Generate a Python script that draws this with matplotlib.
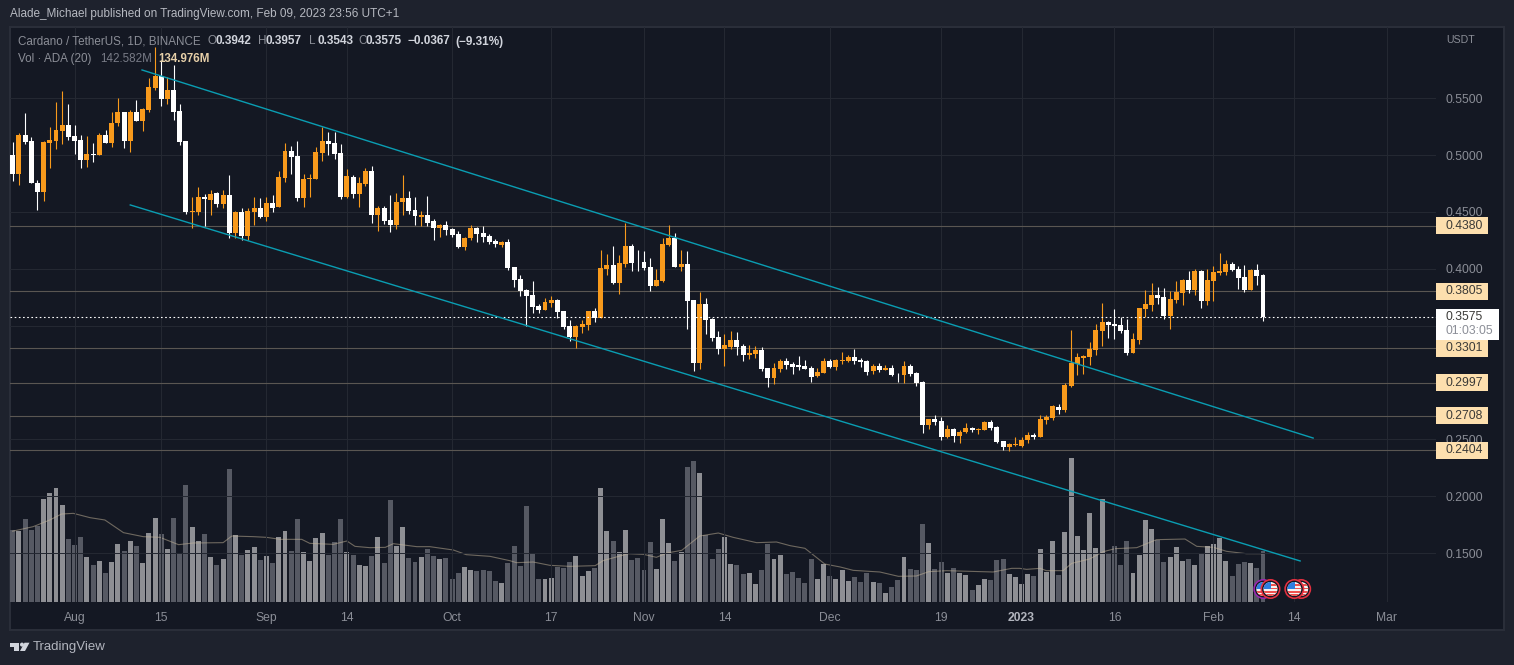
"""Cardano / TetherUS daily chart, dark TradingView look."""

import numpy as np
import pandas as pd
import matplotlib
matplotlib.use("Agg")
import matplotlib.pyplot as plt
import matplotlib.dates as mdates
from matplotlib.patches import Circle, Polygon, Rectangle

plt.rcParams["font.family"] = ["Liberation Sans", "DejaVu Sans"]

# ---------------------------------------------------------------- data
start_date = "2022-07-22"

opens = [
    .5003, .4830, .5178, .5126, .4759, .4680, .5111, .5126, .5216, .5266,
    .5170, .5134, .4959, .5008, .4997, .5178, .5108, .5281, .5381, .5126,
    .5381, .5301, .5398, .5591, .5697, .5498, .5574, .5389, .5126, .4496,
    .4502, .4636, .4607, .4669, .4572, .4648, .4314, .4502, .4291, .4502,
    .4537, .4455, .4581, .4545, .4803, .5038, .4994, .4625, .4786, .4792,
    .5020, .5126, .5108, .5020, .4633, .4809, .4660, .4748, .4862, .4475,
    .4537, .4431, .4387, .4584, .4625, .4519, .4458, .4475, .4418, .4359,
    .4383, .4348, .4304, .4195, .4271, .4357, .4313, .4286, .4245, .4213,
    .4234, .4014, .3908, .3812, .3768, .3671, .3636, .3698, .3724, .3627,
    .3495, .3399, .3487, .3504, .3627, .3566, .3996, .4032, .3873, .4040,
    .4199, .4055, .4058, .4014, .3847, .3891, .4207, .4269, .4014, .4040,
    .3724, .3170, .3689, .3557, .3399, .3293, .3311, .3372, .3320, .3240,
    .3249, .3284, .3126, .3038, .3117, .3188, .3161, .3153, .3144, .3126,
    .3056, .3082, .3188, .3135, .3188, .3188, .3223, .3197, .3188, .3100,
    .3144, .3109, .3126, .3076, .3065, .3144, .3082, .3003, .2625, .2678,
    .2660, .2520, .2590, .2528, .2564, .2599, .2587, .2581, .2652, .2608,
    .2484, .2432, .2449, .2441, .2493, .2537, .2520, .2669, .2687, .2783,
    .2757, .2968, .3161, .3214, .3223, .3284, .3451, .3531, .3513, .3504,
    .3460, .3258, .3372, .3645, .3680, .3768, .3750, .3583, .3724, .3785,
    .3900, .3812, .3979, .3715, .3891, .3961, .3970, .4040, .3996, .3926,
    .3812, .3988, .3942]
highs = [
    .5114, .5199, .5369, .5158, .4783, .5126, .5246, .5463, .5562, .5451,
    .5263, .5178, .5170, .5111, .5193, .5222, .5383, .5501, .5381, .5398,
    .5486, .5419, .5676, .5949, .5837, .5685, .5793, .5451, .5126, .4636,
    .4724, .4660, .4695, .4680, .4695, .4827, .4513, .4534, .4534, .4630,
    .4625, .4636, .4651, .4859, .5105, .5082, .5126, .4830, .4836, .5076,
    .5249, .5205, .5205, .5099, .4880, .4827, .4809, .4885, .4906, .4554,
    .4554, .4648, .4666, .4827, .4689, .4636, .4510, .4642, .4436, .4392,
    .4421, .4359, .4330, .4280, .4389, .4368, .4374, .4304, .4266, .4242,
    .4266, .4014, .3950, .3826, .3891, .3695, .3747, .3759, .3739, .3627,
    .3554, .3504, .3548, .3630, .3654, .4169, .4128, .4199, .4119, .4404,
    .4216, .4163, .4155, .4093, .3996, .4269, .4383, .4313, .4163, .4155,
    .3724, .3794, .3741, .3566, .3451, .3425, .3451, .3443, .3343, .3328,
    .3320, .3311, .3126, .3170, .3205, .3214, .3179, .3232, .3197, .3144,
    .3126, .3214, .3205, .3205, .3267, .3240, .3293, .3214, .3197, .3161,
    .3170, .3153, .3153, .3082, .3188, .3161, .3091, .3012, .2678, .2713,
    .2695, .2625, .2599, .2581, .2643, .2608, .2599, .2660, .2669, .2616,
    .2484, .2464, .2520, .2520, .2561, .2555, .2713, .2713, .2801, .2810,
    .2994, .3460, .3258, .3240, .3355, .3513, .3698, .3539, .3645, .3574,
    .3557, .3434, .3654, .3812, .3873, .3838, .3829, .3803, .3891, .3908,
    .3979, .3996, .3988, .3996, .4023, .4137, .4076, .4058, .4023, .4032,
    .3996, .4040, .3957]
lows = [
    .4774, .4739, .5099, .4751, .4519, .4598, .4891, .5052, .5099, .5134,
    .5011, .4891, .4900, .4944, .4997, .5108, .5076, .5252, .5067, .5032,
    .5301, .5216, .5383, .5574, .5436, .5451, .5310, .5085, .4484, .4355,
    .4475, .4381, .4475, .4548, .4534, .4270, .4270, .4255, .4255, .4384,
    .4446, .4417, .4499, .4545, .4765, .4836, .4598, .4548, .4636, .4792,
    .4950, .5003, .4964, .4616, .4627, .4625, .4548, .4730, .4402, .4337,
    .4396, .4320, .4352, .4475, .4484, .4384, .4373, .4378, .4251, .4277,
    .4295, .4283, .4184, .4166, .4254, .4236, .4236, .4219, .4192, .4192,
    .3993, .3841, .3759, .3498, .3613, .3613, .3636, .3662, .3572, .3472,
    .3366, .3302, .3434, .3460, .3531, .3566, .3944, .3865, .3777, .4014,
    .3979, .3979, .3988, .3803, .3847, .3882, .4199, .4014, .3979, .3469,
    .3100, .3117, .3425, .3364, .3249, .3144, .3293, .3240, .3188, .3205,
    .3214, .3100, .2959, .2986, .3091, .3117, .3073, .3109, .3117, .3003,
    .3047, .3082, .3126, .3109, .3161, .3179, .3161, .3135, .3065, .3073,
    .3091, .3109, .3056, .3003, .2994, .3056, .2968, .2555, .2590, .2625,
    .2493, .2511, .2476, .2467, .2555, .2564, .2546, .2581, .2581, .2467,
    .2405, .2400, .2441, .2432, .2467, .2502, .2520, .2634, .2669, .2722,
    .2739, .2959, .3065, .3073, .3153, .3240, .3320, .3390, .3381, .3434,
    .3240, .3258, .3337, .3574, .3627, .3689, .3557, .3469, .3698, .3680,
    .3785, .3768, .3654, .3680, .3715, .3944, .3944, .3979, .3821, .3794,
    .3812, .3856, .3543]
closes = [
    .4830, .5178, .5114, .4751, .4680, .5114, .5134, .5222, .5266, .5161,
    .5126, .4959, .5011, .4997, .5178, .5108, .5281, .5381, .5126, .5381,
    .5301, .5407, .5597, .5697, .5498, .5574, .5381, .5117, .4502, .4510,
    .4633, .4616, .4660, .4572, .4648, .4314, .4502, .4291, .4510, .4537,
    .4455, .4581, .4534, .4809, .5038, .4985, .4625, .4792, .4800, .5029,
    .5126, .5099, .5008, .4633, .4818, .4657, .4756, .4862, .4475, .4537,
    .4422, .4387, .4589, .4625, .4510, .4461, .4475, .4405, .4359, .4383,
    .4339, .4295, .4192, .4274, .4357, .4304, .4277, .4236, .4216, .4233,
    .4005, .3903, .3803, .3759, .3662, .3636, .3706, .3724, .3618, .3487,
    .3399, .3495, .3513, .3627, .3566, .4005, .4032, .3873, .4049, .4199,
    .4049, .4049, .4005, .3847, .3900, .4216, .4269, .4014, .4040, .3718,
    .3170, .3689, .3548, .3390, .3293, .3328, .3372, .3311, .3240, .3258,
    .3284, .3117, .3038, .3126, .3188, .3153, .3135, .3135, .3117, .3053,
    .3091, .3188, .3135, .3197, .3197, .3223, .3188, .3179, .3091, .3144,
    .3109, .3126, .3065, .3071, .3144, .3073, .2994, .2625, .2678, .2652,
    .2520, .2590, .2528, .2564, .2599, .2581, .2593, .2652, .2599, .2476,
    .2432, .2458, .2458, .2499, .2537, .2520, .2678, .2695, .2792, .2757,
    .2977, .3170, .3223, .3232, .3293, .3460, .3531, .3507, .3495, .3451,
    .3258, .3381, .3654, .3689, .3768, .3744, .3583, .3733, .3794, .3900,
    .3812, .3979, .3715, .3900, .3970, .3979, .4040, .3988, .3917, .3812,
    .3988, .3935, .3575]

# volume in millions of ADA
volumes = [
    200.4, 198.5, 232.1, 201.3, 212.5, 288.0, 304.8, 318.7, 271.2, 176.1,
    159.4, 181.7, 125.8, 103.5, 114.6, 81.1, 111.8, 162.2, 142.6, 170.6,
    156.6, 109.0, 192.9, 234.9, 190.1, 148.2, 234.9, 134.2, 327.1, 209.7,
    170.6, 190.1, 125.8, 103.5, 120.2, 371.9, 187.3, 131.4, 145.4, 153.8,
    117.4, 128.6, 109.0, 181.7, 198.5, 142.6, 232.1, 139.8, 114.6, 178.9,
    192.9, 131.4, 167.8, 232.1, 139.8, 131.4, 103.5, 100.7, 128.6, 181.7,
    109.0, 285.2, 156.6, 209.7, 123.0, 111.8, 125.8, 148.2, 128.6, 120.2,
    123.0, 64.3, 81.1, 97.9, 89.5, 86.7, 89.5, 86.7, 58.7, 53.1,
    109.0, 156.6, 100.7, 268.4, 137.0, 64.3, 64.3, 67.1, 97.9, 95.1,
    111.8, 128.6, 72.7, 86.7, 95.1, 318.7, 198.5, 170.6, 139.8, 201.3,
    117.4, 123.0, 89.5, 167.8, 92.3, 232.1, 165.0, 114.6, 139.8, 377.5,
    394.2, 360.7, 187.3, 120.2, 148.2, 181.7, 106.2, 103.5, 78.3, 81.1,
    50.3, 89.5, 162.2, 120.2, 131.4, 78.3, 83.9, 67.1, 53.1, 120.2,
    64.3, 106.2, 72.7, 64.3, 89.5, 58.7, 69.9, 55.9, 81.1, 55.9,
    53.1, 25.2, 41.9, 61.5, 125.8, 92.3, 89.5, 218.1, 165.0, 92.3,
    111.8, 81.1, 95.1, 81.1, 75.5, 33.6, 47.5, 64.3, 61.5, 117.4,
    120.2, 78.3, 69.9, 50.3, 78.3, 72.7, 148.2, 83.9, 170.6, 75.5,
    195.7, 402.6, 184.5, 145.4, 248.8, 151.0, 288.0, 134.2, 156.6, 103.5,
    170.6, 81.1, 131.4, 229.3, 204.1, 173.4, 111.8, 125.8, 153.8, 114.6,
    120.2, 103.5, 134.2, 156.6, 162.2, 178.9, 114.6, 72.7, 106.2, 111.8,
    109.0, 95.1, 142.6]

# 20-day volume average, read at its bends (days after start_date, millions)
ma_days = [
    0, 3.3, 6.0, 7.9, 9.8, 12.5, 14.9, 17.9, 21.1, 23.8, 26.8, 29.2, 34.0,
    35.4, 38.9, 41.0, 43.2, 46.7, 48.0, 51.8, 54.0, 55.3, 57.7, 60.2, 61.5,
    65.3, 67.4, 71.2, 73.3, 77.1, 80.3, 81.4, 84.1, 86.8, 90.0, 94.1, 95.4,
    98.1, 99.5, 101.9, 104.0, 105.7, 108.1, 111.0, 114.0, 116.4, 120.2,
    123.4, 125.6, 128.0, 131.2, 133.7, 135.8, 140.1, 143.1, 146.0, 148.0,
    150.9, 158.4, 161.4, 162.7, 163.8, 166.0, 167.0, 169.7, 171.1, 174.0,
    176.2, 178.1, 181.6, 184.8, 189.4, 191.3, 194.0, 196.1, 199.3, 202.0]
ma_values = [
    198.0, 210.6, 229.3, 246.0, 247.9, 235.8, 229.3, 193.9, 182.7, 180.8,
    160.3, 165.0, 165.9, 184.5, 182.7, 180.8, 175.2, 175.2, 164.0, 161.2,
    170.6, 155.6, 151.9, 152.8, 163.1, 154.7, 154.7, 145.4, 132.3, 127.7,
    115.6, 110.0, 111.8, 102.5, 99.7, 101.6, 115.6, 128.6, 135.1, 133.3,
    124.9, 137.0, 144.5, 184.5, 192.9, 180.8, 165.9, 167.8, 157.5, 150.1,
    106.2, 97.9, 88.5, 83.9, 71.8, 72.7, 84.8, 87.6, 83.9, 94.1, 94.1, 91.3,
    94.1, 87.6, 87.6, 108.1, 120.2, 140.7, 149.1, 151.9, 174.3, 176.1,
    155.6, 152.8, 141.7, 135.1, 135.0]

support_levels = [0.4380, 0.3805, 0.3301, 0.2997, 0.2708, 0.2404]
last_price = 0.3575
price_ticks = [0.15, 0.20, 0.25, 0.30, 0.35, 0.40, 0.45, 0.50, 0.55]
# 0.30 and 0.35 sit behind the price boxes on the right scale
hidden_ticks = [0.30, 0.35]

# channel end points (days after start_date, price)
upper_days, upper_prices = [20.9, 210.1], [0.5749, 0.2512]
lower_days, lower_prices = [19.0, 208.0], [0.4562, 0.1431]

tick_dates = ["2022-08-01", "2022-08-15", "2022-09-01", "2022-09-14",
              "2022-10-01", "2022-10-17", "2022-11-01", "2022-11-14",
              "2022-12-01", "2022-12-19", "2023-01-01", "2023-01-16",
              "2023-02-01", "2023-02-14", "2023-03-01"]
tick_labels = ["Aug", "15", "Sep", "14", "Oct", "17", "Nov", "14", "Dec",
               "19", "2023", "16", "Feb", "14", "Mar"]

# -------------------------------------------------------------- colours
OUTER = "#1e222d"
PANE = "#141823"
BORDER = "#2a2e39"
GRID = "#242832"
UP = "#f89a1c"
DOWN = "#ffffff"
VOL_UP = "#8e8f94"
VOL_DOWN = "#565963"
LEVEL = "#5a5652"
CHANNEL = "#0a9db2"
TICK_TXT = "#8b8e97"
GREY_TXT = "#868993"
VALUE_TXT = "#d1d4dc"
BOX = "#fddfae"

W, H = 1514, 665
PX = 0.72  # one pixel in points at dpi 100

fig = plt.figure(figsize=(W / 100, H / 100), dpi=100, facecolor=OUTER)

# pixel-space layers behind and in front of the chart
back = fig.add_axes([0, 0, 1, 1], zorder=0)
front = fig.add_axes([0, 0, 1, 1], zorder=5)
for a in (back, front):
    a.set_xlim(0, W)
    a.set_ylim(H, 0)
    a.axis("off")
    a.patch.set_alpha(0)
back.add_patch(Rectangle((9.5, 26.5), 1494, 603.5, fc=PANE, ec=BORDER, lw=2 * PX))

rect = [10 / W, 1 - 602 / H, 1426 / W, 575 / H]
ax_vol = fig.add_axes(rect, zorder=1)
ax = fig.add_axes(rect, zorder=2)
ax_vol.patch.set_alpha(0)
ax.patch.set_alpha(0)

base = mdates.date2num(pd.Timestamp(start_date))
days = np.arange(len(closes))
x = base + days
o, h, l, c = map(np.array, (opens, highs, lows, closes))
up = c >= o

# ------------------------------------------------------------- volume
ax_vol.bar(x, volumes, width=0.8, color=np.where(up, VOL_UP, VOL_DOWN), lw=0)
ax_vol.plot(base + np.array(ma_days), ma_values, color="#c9b99c", alpha=0.5, lw=1.1 * PX)
ax_vol.set_ylim(0, 575 * 2.796)
ax_vol.set_xlim(base - 0.43, base + 229.95)
ax_vol.axis("off")

# ------------------------------------------------------------- candles
ax.set_axisbelow(True)
ax.grid(True, color=GRID, lw=PX)
for level in support_levels:
    ax.axhline(level, color=LEVEL, lw=1.1 * PX, zorder=2)
ax.vlines(x[up], l[up], h[up], color=UP, lw=1.1 * PX, zorder=3)
ax.vlines(x[~up], l[~up], h[~up], color=DOWN, lw=1.1 * PX, zorder=3)
ax.bar(x[up], (c - o)[up], bottom=o[up], width=0.8, color=UP, lw=0, zorder=3.1)
ax.bar(x[~up], (o - c)[~up], bottom=c[~up], width=0.8, color=DOWN, lw=0, zorder=3.1)
ax.axhline(last_price, color="#ffffff", lw=1.1 * PX, ls=(0, (1.5, 2.3)), zorder=3.2)
ax.plot(base + np.array(upper_days), upper_prices, color=CHANNEL, lw=1.4 * PX, zorder=3.3)
ax.plot(base + np.array(lower_days), lower_prices, color=CHANNEL, lw=1.4 * PX, zorder=3.3)

ax.set_xlim(base - 0.43, base + 229.95)
ax.set_ylim(0.1070, 0.6127)
ax.set_xticks([mdates.date2num(pd.Timestamp(d)) for d in tick_dates])
ax.set_xticklabels(tick_labels)
ax.set_yticks(price_ticks)
ax.set_yticklabels(["" if p in hidden_ticks else f"{p:.4f}" for p in price_ticks])
ax.yaxis.tick_right()
ax.tick_params(axis="x", length=0, pad=7, labelsize=8.7, labelcolor=TICK_TXT)
ax.tick_params(axis="y", length=0, pad=7, labelsize=8.7, labelcolor=TICK_TXT)
ax.get_xticklabels()[tick_labels.index("2023")].set_color("#b2b5be")
ax.get_xticklabels()[tick_labels.index("2023")].set_fontweight("bold")
for s in ax.spines.values():
    s.set_visible(False)

# price labels on the right scale
yaxis_tf = ax.get_yaxis_transform()
box_w = 52 / 1426
box_h = 17 / 1137
for level in support_levels:
    ax.add_patch(Rectangle((1, level - box_h / 2), box_w, box_h, transform=yaxis_tf,
                           fc=BOX, ec="none", clip_on=False, zorder=6))
    ax.text(1 + 10 / 1426, level, f"{level:.4f}", transform=yaxis_tf, color="#3b3a37",
            fontsize=8.7, va="center", ha="left", clip_on=False, zorder=7)
ax.add_patch(Rectangle((1, last_price - 23 / 1137), 63 / 1426, 31 / 1137, transform=yaxis_tf,
                       fc="#ffffff", ec="none", clip_on=False, zorder=6))
ax.text(1 + 10 / 1426, last_price, f"{last_price:.4f}", transform=yaxis_tf, color="#3b3a37",
        fontsize=8.7, va="center", ha="left", clip_on=False, zorder=7)
ax.text(1 + 10 / 1426, last_price - 14 / 1137, "01:03:05", transform=yaxis_tf, color="#8b8e97",
        fontsize=8.7, va="center", ha="left", clip_on=False, zorder=7)


# ------------------------------------------------------- header and chrome
def label(x_px, y_px, text, color=GREY_TXT, size=8.7, weight="normal"):
    front.text(x_px, y_px, text, color=color, fontsize=size, fontweight=weight,
               va="center", ha="left")


label(10, 14, "Alade_Michael published on TradingView.com, Feb 09, 2023 23:56 UTC+1",
      color="#b6b9c1", size=8.5)
label(18, 41.5, "Cardano / TetherUS, 1D, BINANCE", color="#8b8e97", size=8.4)
for x_px, letter, value in [(207, "O", "0.3942"), (258, "H", "0.3957"),
                            (309, "L", "0.3543"), (358, "C", "0.3575")]:
    label(x_px, 41.5, letter, color="#8b8e97", size=8.4)
    label(x_px + 8, 41.5, value, color=VALUE_TXT, size=8.5, weight="bold")
label(408, 41.5, "\u22120.0367", color=VALUE_TXT, size=8.5, weight="bold")
label(455, 41.5, "(\u22129.31%)", color=VALUE_TXT, size=8.5, weight="bold")
label(18, 59, "Vol \u00b7 ADA (20)", color="#8b8e97", size=8.4)
label(100, 59, "142.582M", color="#787b86", size=8.4)
label(158, 59, "134.976M", color="#e6cfa8", size=8.3, weight="bold")
label(1446, 40, "USDT", color=TICK_TXT, size=7.6)

# logo and wordmark
logo = "#d1d4dc"
front.add_patch(Polygon([(10, 642.7), (19, 642.7), (19, 651), (14, 651), (14, 646.5), (10, 646.5)],
                        fc=logo, ec="none"))
front.add_patch(Circle((22, 644.6), 2, fc=logo, ec="none"))
front.add_patch(Polygon([(24.5, 642.7), (29.5, 642.7), (25, 651), (20, 651)], fc=logo, ec="none"))
label(33, 647, "TradingView", color="#b2b5be", size=9.5)


# economic event markers
def event_flag(cx, cy, ring):
    front.add_patch(Circle((cx, cy), 9.2, fc="#131722", ec=ring, lw=1.6 * PX))
    disc = Circle((cx, cy), 7, fc="#f5f5f5", ec="none")
    front.add_patch(disc)
    for dy in (-5, -1.5, 2, 5):
        st = Rectangle((cx - 8, cy + dy), 16, 1.9, fc="#ef5350", ec="none")
        front.add_patch(st)
        st.set_clip_path(disc)
    canton = Rectangle((cx - 8, cy - 8), 8.5, 7.6, fc="#2f7fe0", ec="none")
    front.add_patch(canton)
    canton.set_clip_path(disc)


event_flag(1263.3, 589, "#9c27b0")
event_flag(1270.5, 589, "#e53040")
event_flag(1301.2, 589, "#e53040")
event_flag(1294.3, 589, "#e53040")

fig.savefig("out.png", dpi=100, facecolor=OUTER)
